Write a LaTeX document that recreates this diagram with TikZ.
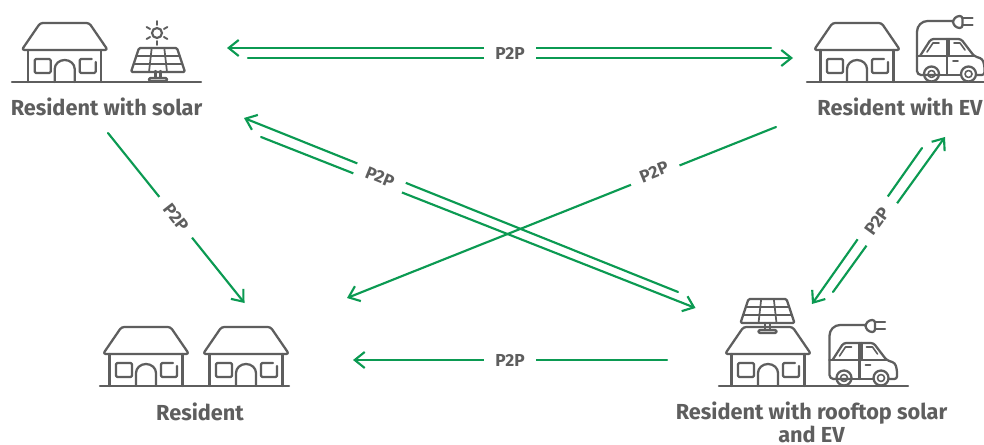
\documentclass[tikz,border=0pt]{standalone}
\usepackage{fontspec}
\setmainfont{Fira Sans}
\usetikzlibrary{arrows.meta}
\definecolor{iconcol}{HTML}{5E5E5E}
\definecolor{flowcol}{HTML}{0B9A52}
\tikzset{
  icon/.style={draw=iconcol,line width=1.7pt,line cap=round,line join=round},
  house/.pic={
    \draw[icon,rounded corners=2pt] (-24.5,-59) -- (24.5,-59) -- (43,-32) -- (-43,-32) -- cycle;
    \draw[icon] (-36.5,-32) -- (-36.5,0);
    \draw[icon] (36.5,-32) -- (36.5,0);
    \draw[icon,rounded corners=1pt] (-30,-23) rectangle (-14,-9);
    \draw[icon] (-10,0) -- (-10,-13) arc (180:360:10 and 9) -- (10,0);
    \draw[icon,rounded corners=1pt] (27,-23) -- (15,-23) -- (15,-9) -- (31,-9) -- (31,-20);
  },
  panel/.pic={
    \draw[icon,rounded corners=1pt] (-19,-24) -- (19,-24) -- (27,0) -- (-27,0) -- cycle;
    \foreach \s in {-1,1} {
      \draw[icon,line width=1.3pt] (\s*6.3,-24) -- (\s*9,0);
    }
    \draw[icon,line width=1.3pt] (-21.7,-16) -- (21.7,-16);
    \draw[icon,line width=1.3pt] (-24.3,-8) -- (24.3,-8);
  },
  stand/.pic={
    \draw[icon] (-2.5,0) -- (-2.5,7);
    \draw[icon] (2.5,0) -- (2.5,7);
    \draw[icon,rounded corners=1pt] (-9,7) rectangle (9,10);
  },
  car/.pic={
    \draw[icon,rounded corners=3pt] (-11,-7) -- (-33,-7) -- (-33,-26);
    \draw[icon,rounded corners=8pt] (-33,-26) -- (-33,-61) -- (3,-61);
    \draw[icon,rounded corners=2pt] (-30,-26) -- (-19,-43) -- (11,-43) -- (24,-26) -- (32.5,-23) -- (34.5,-16) -- (34.5,-7) -- (27,-7);
    \draw[icon] (-33,-26) -- (24,-26);
    \draw[icon] (-11,-7) -- (10,-7);
    \draw[icon] (-3,-43) -- (-3,-7);
    \draw[icon] (-1,-43) -- (-1,-26);
    \draw[icon,line width=1.2pt] (-23,-30) -- (-17,-39) -- (-11,-39);
    \draw[icon,line width=1.2pt] (4,-39) -- (10,-39) -- (15,-32);
    \draw[icon,line width=1.2pt] (3,-21) -- (8,-21);
    \foreach \w in {-18.5,18.5} {
      \draw[icon] (\w,-8) circle (7.5);
      \draw[icon,line width=1.2pt] (\w,-8) circle (3.5);
    }
    \draw[icon,rounded corners=2pt] (12.5,-66) -- (7,-66) -- (3,-62) -- (3,-58) -- (7,-54) -- (12.5,-54) -- cycle;
    \draw[icon] (12.5,-64) -- (22.5,-64);
    \draw[icon] (12.5,-57) -- (22.5,-57);
  }
}
\begin{document}
\begin{tikzpicture}[x=0.75pt,y=-0.75pt]
  \tikzstyle{who}=[text=iconcol,font=\fontsize{16.3}{17.5}\selectfont\bfseries,align=center,inner sep=0pt]
  \tikzstyle{flow}=[draw=flowcol,line width=1.6pt,line cap=round]
  \tikzstyle{head}=[flow,-{Straight Barb[length=7.5pt,width=12pt,line width=1.6pt]}]
  \tikzstyle{ptp}=[fill=white,text=iconcol,font=\fontsize{13}{15}\selectfont\bfseries,minimum width=39pt,minimum height=17pt,inner sep=0pt]
  \useasboundingbox (0,0) rectangle (984,445);
  \fill[white] (0,0) rectangle (984,445);

  \draw[icon] (12,82) -- (201,82);
  \pic (house1) at (64.7,82) {house};
  \pic (panel1) at (158,72) {panel};
  \pic (stand1) at (158,71) {stand};
  \node[draw=iconcol,line width=1.6pt,circle,minimum size=7.5pt,inner sep=0pt] (sun) at (157,33) {};
  \foreach \a in {90,30,-30,-90,-150,150} {
    \draw[icon,line width=1.4pt] (sun) ++(\a:-8) -- ++(\a:-4);
  }
  \node[who] (solar) at (106.5,107) {Resident with solar};

  \draw[icon] (807,82) -- (984,82);
  \pic (house2) at (857,82) {house};
  \pic (car2) at (950,82) {car};
  \node[who] (ev) at (900,107) {Resident with EV};

  \draw[icon] (100,386) -- (289,386);
  \pic (house3) at (146,386) {house};
  \pic (house4) at (246,386) {house};
  \node[who] (resident) at (200,412) {Resident};

  \draw[icon] (719,386) -- (908,386);
  \pic (house5) at (768,386) {house};
  \pic (panel5) at (767.5,323) {panel};
  \pic (stand5) at (767.5,323) {stand};
  \pic (car5) at (862.5,386) {car};
  \node[who] (rooftop) at (811.5,422.5) {Resident with rooftop solar\\and EV};

  \coordinate (a2) at (227,48);
  \coordinate (a3) at (248,58);
  \coordinate (a4) at (793,58);
  \coordinate (a5) at (771,48);
  \coordinate (b1) at (678,292);
  \coordinate (b2) at (244,118);
  \coordinate (b3) at (261,137);
  \coordinate (b4) at (695.5,308);
  \coordinate (c1) at (776,127);
  \coordinate (c2) at (347,298);
  \coordinate (d1) at (108,133);
  \coordinate (d2) at (244.5,303);
  \coordinate (e1) at (833,292);
  \coordinate (e2) at (945,137);
  \coordinate (e3) at (922,148);
  \coordinate (e4) at (812,304);
  \coordinate (f1) at (667,360);
  \coordinate (f2) at (353,360);

  \draw[head] (a5) -- (a2);
  \draw[head] (a3) -- (a4);
  \draw[head] (b1) -- (b2);
  \draw[head] (b3) -- (b4);
  \draw[head] (c1) -- (c2);
  \draw[head] (d1) -- (d2);
  \draw[head] (e1) -- (e2);
  \draw[head] (e3) -- (e4);
  \draw[head] (f1) -- (f2);

  \node[ptp] (p1) at (510,53) {P2P};
  \node[ptp,rotate=-22] (p2) at (380,177) {P2P};
  \node[ptp,rotate=22] (p3) at (654,172) {P2P};
  \node[ptp,rotate=-52] (p4) at (176,217) {P2P};
  \node[ptp,rotate=54] (p5) at (877,221) {P2P};
  \node[ptp] (p6) at (510,360) {P2P};
\end{tikzpicture}
\end{document}
